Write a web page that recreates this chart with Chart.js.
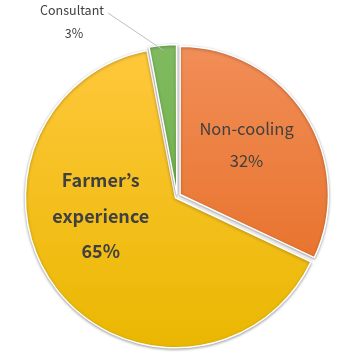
<!DOCTYPE html>
<html><head><meta charset="utf-8">
<script src="https://cdn.jsdelivr.net/npm/chart.js@4"></script>
<style>html,body{margin:0;padding:0;background:#fff}#wrap{width:354px;height:353px}</style>
</head><body><div id="wrap"><canvas id="c" width="354" height="353"></canvas></div>
<script>
const categories = ["Non-cooling", "Farmer\u2019s experience", "Consultant"];
const values = [32, 65, 3];
const pctLabels = ["32%", "65%", "3%"];

const gradStops = [
  ["#F18E58", "#E5691C"],
  ["#FFC83C", "#E9B700"],
  ["#80BA60", "#68AC3A"]
];

const FONT = "'Noto Sans CJK KR','Noto Sans',sans-serif";

const shadowPlugin = {
  id: 'shadow',
  beforeDatasetsDraw(chart) {
    const ctx = chart.ctx;
    ctx.save();
    ctx.shadowColor = 'rgba(0,0,0,0.35)';
    ctx.shadowBlur = 3;
    ctx.shadowOffsetX = 0;
    ctx.shadowOffsetY = 1;
  },
  afterDatasetsDraw(chart) { chart.ctx.restore(); }
};

const labelPlugin = {
  id: 'labels',
  afterDatasetsDraw(chart) {
    const ctx = chart.ctx;
    const arcs = chart.getDatasetMeta(0).data;
    ctx.save();
    ctx.textAlign = 'center';
    ctx.textBaseline = 'middle';
    ctx.fillStyle = '#404040';
    // Non-cooling (inside)
    let a = arcs[0].getProps(['x','y','outerRadius']);
    let cx = a.x + 0.47 * a.outerRadius, cy = a.y - 0.35 * a.outerRadius;
    ctx.font = "16.5px " + FONT;
    ctx.fillText(categories[0], cx, cy - 15.5);
    ctx.fillText(pctLabels[0], cx, cy + 16);
    // Farmer's experience (inside, bold)
    a = arcs[1].getProps(['x','y','outerRadius']);
    cx = a.x - 0.515 * a.outerRadius; cy = a.y + 0.135 * a.outerRadius;
    ctx.font = "bold 18px " + FONT;
    const words = categories[1].split(' ');
    ctx.fillText(words[0], cx, cy - 36);
    ctx.fillText(words[1], cx, cy);
    ctx.fillText(pctLabels[1], cx, cy + 35);
    // Consultant (outside with leader line)
    a = arcs[2].getProps(['x','y','outerRadius','startAngle','endAngle']);
    const mid = (a.startAngle + a.endAngle) / 2;
    const ex = a.x + Math.cos(mid) * (a.outerRadius - 1);
    const ey = a.y + Math.sin(mid) * (a.outerRadius - 1);
    const lx = 72, ly = 10;
    ctx.strokeStyle = '#BFBFBF';
    ctx.lineWidth = 1;
    ctx.beginPath();
    ctx.moveTo(lx + 36, ly + 3);
    ctx.lineTo(ex, ey);
    ctx.stroke();
    ctx.font = "12.5px " + FONT;
    ctx.fillText(categories[2], lx, ly);
    ctx.fillText(pctLabels[2], lx + 2, ly + 23);
    ctx.restore();
  }
};

new Chart(document.getElementById('c'), {
  type: 'pie',
  data: {
    labels: categories,
    datasets: [{
      data: values,
      backgroundColor(ctx) {
        const chart = ctx.chart;
        const area = chart.chartArea;
        if (!area) return gradStops[ctx.dataIndex][0];
        const g = chart.ctx.createLinearGradient(0, area.top + 5, 0, area.bottom);
        g.addColorStop(0, gradStops[ctx.dataIndex][0]);
        g.addColorStop(1, gradStops[ctx.dataIndex][1]);
        return g;
      },
      borderColor: '#FFFFFF',
      borderWidth: 1.5,
      offset: [14.6, 8, 8.8],
      hoverOffset: 0
    }]
  },
  options: {
    responsive: false,
    animation: false,
    radius: 148,
    layout: { padding: { top: 40, bottom: 0, left: 0, right: 0 } },
    events: [],
    plugins: { legend: { display: false }, tooltip: { enabled: false } }
  },
  plugins: [shadowPlugin, labelPlugin]
});
</script>
</body></html>
